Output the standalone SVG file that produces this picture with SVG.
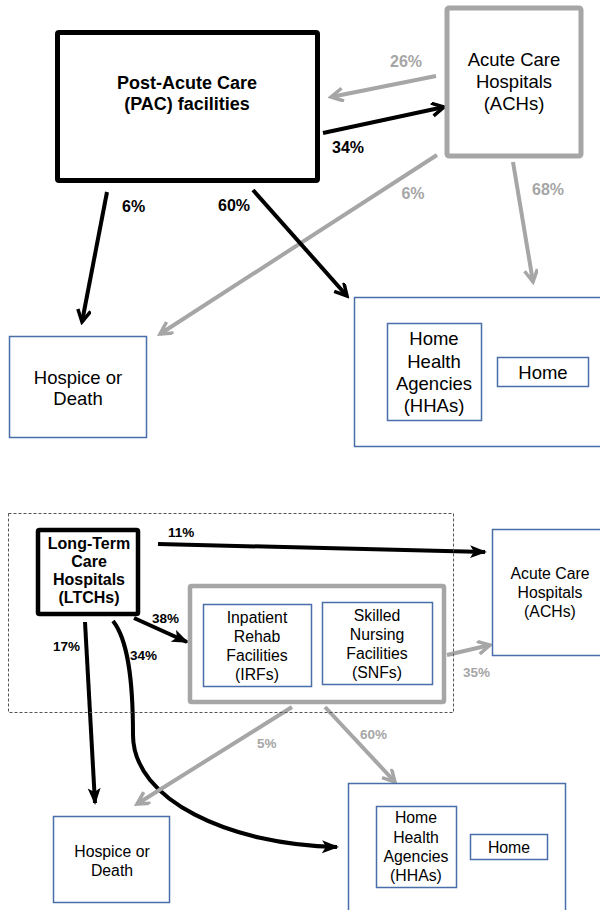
<svg xmlns="http://www.w3.org/2000/svg" width="600" height="910" viewBox="0 0 600 910">
<defs>
<style>
.t{font-family:"Liberation Sans",Arial,sans-serif;fill:#000;text-anchor:middle}
.b{font-weight:bold}
.n1{font-size:18.5px}
.n2{font-size:15.8px}
.p{font-family:"Liberation Sans",Arial,sans-serif;font-weight:bold;font-size:16px}
.ps{font-family:"Liberation Sans",Arial,sans-serif;font-weight:bold;font-size:13.5px}
.g{fill:#a6a6a6}
.k{fill:#000}
.blue{fill:#fff;stroke:#4a6ea8;stroke-width:1.5}
.lk{fill:none;stroke:#000;stroke-width:4}
.lg{fill:none;stroke:#a6a6a6;stroke-width:4}
</style>
<marker id="chK" viewBox="0 0 16 16" refX="13" refY="7" markerWidth="16" markerHeight="16" markerUnits="userSpaceOnUse" orient="auto">
<path d="M1,0.5 L13,7 L1,13.5" fill="none" stroke="#000" stroke-width="3.5"/>
</marker>
<marker id="chG" viewBox="0 0 16 16" refX="13" refY="7" markerWidth="16" markerHeight="16" markerUnits="userSpaceOnUse" orient="auto">
<path d="M1,0.5 L13,7 L1,13.5" fill="none" stroke="#a6a6a6" stroke-width="3.5"/>
</marker>
<marker id="fK" viewBox="0 0 18 14" refX="15" refY="7" markerWidth="18" markerHeight="14" markerUnits="userSpaceOnUse" orient="auto">
<path d="M0,0.5 L17,7 L0,13.5 L4,7 z" fill="#000"/>
</marker>
</defs>

<g id="connectors">
<line class="lg" x1="436" y1="76" x2="331" y2="97" marker-end="url(#chG)"/>
<line class="lk" x1="323" y1="133" x2="444" y2="107" marker-end="url(#chK)"/>
<line class="lg" x1="437" y1="155" x2="160" y2="334" marker-end="url(#chG)"/>
<line class="lg" x1="513" y1="162" x2="533" y2="282" marker-end="url(#chG)"/>
<line class="lk" x1="107" y1="192" x2="82" y2="322" marker-end="url(#chK)"/>
<line class="lk" x1="253" y1="190" x2="347" y2="296" marker-end="url(#chK)"/>
<line class="lk" x1="158" y1="544" x2="485" y2="552" marker-end="url(#fK)"/>
<line class="lk" x1="134" y1="618" x2="187" y2="642" marker-end="url(#fK)"/>
<line class="lk" x1="85" y1="622" x2="95" y2="803" marker-end="url(#fK)"/>
<path class="lk" d="M113,621 C128,640 133,680 133,735 C133,800 230,845 337,847" marker-end="url(#fK)"/>
<line class="lg" x1="447" y1="655" x2="490" y2="645" marker-end="url(#chG)"/>
<line class="lg" x1="292" y1="707" x2="137" y2="804" marker-end="url(#chG)"/>
<line class="lg" x1="325" y1="707" x2="395" y2="782" marker-end="url(#chG)"/>
</g>

<g id="labels">
<text class="p g" x="406" y="67" text-anchor="middle">26%</text>
<text class="p k" x="332" y="153">34%</text>
<text class="p g" x="413" y="199" text-anchor="middle">6%</text>
<text class="p g" x="532" y="195">68%</text>
<text class="p k" x="122" y="212">6%</text>
<text class="p k" x="218" y="211">60%</text>
<text class="ps k" x="168" y="537">11%</text>
<text class="ps k" x="152" y="623">38%</text>
<text class="ps k" x="53" y="651">17%</text>
<text class="ps k" x="130" y="660">34%</text>
<text class="ps g" x="463" y="677">35%</text>
<text class="ps g" x="257" y="748">5%</text>
<text class="ps g" x="360" y="739">60%</text>
</g>

<g id="pac-top">
<rect x="57.5" y="32.5" width="260" height="148" fill="#fff" stroke="#000" stroke-width="5" rx="1.5"/>
<text class="t b" font-size="18" x="187" y="89">Post-Acute Care</text>
<text class="t b" font-size="18" x="187" y="110">(PAC) facilities</text>
</g>

<g id="ach-top">
<rect x="447" y="8" width="134" height="148" fill="#fff" stroke="#a6a6a6" stroke-width="5" rx="2"/>
<text class="t n1" x="514" y="66">Acute Care</text>
<text class="t n1" x="514" y="88">Hospitals</text>
<text class="t n1" x="514" y="110">(ACHs)</text>
</g>

<g id="hospice-top">
<rect class="blue" x="9.5" y="336.5" width="137" height="101"/>
<text class="t n1" x="78" y="384">Hospice or</text>
<text class="t n1" x="78" y="405">Death</text>
</g>

<g id="home-group-top">
<rect class="blue" x="354.5" y="297.5" width="250" height="149"/>
<g id="hha-top">
<rect class="blue" x="387.5" y="323.5" width="94" height="97"/>
<text class="t n1" x="434" y="345">Home</text>
<text class="t n1" x="434" y="368">Health</text>
<text class="t n1" x="434" y="390">Agencies</text>
<text class="t n1" x="434" y="412">(HHAs)</text>
</g>
<g id="home-top">
<rect class="blue" x="497.5" y="357.5" width="91" height="29"/>
<text class="t n1" x="543" y="379">Home</text>
</g>
</g>

<g id="ltch-scope">
<rect x="8.5" y="513.5" width="445" height="199" fill="none" stroke="#555" stroke-width="1" stroke-dasharray="3,2"/>
</g>

<g id="ltch">
<rect x="38" y="530" width="100" height="84" fill="#fff" stroke="#000" stroke-width="4.5" rx="1.5"/>
<text class="t b" font-size="16" x="89" y="549">Long-Term</text>
<text class="t b" font-size="16" x="89" y="567">Care</text>
<text class="t b" font-size="16" x="89" y="585">Hospitals</text>
<text class="t b" font-size="16" x="89" y="603">(LTCHs)</text>
</g>

<g id="pac-bottom">
<rect x="190" y="586" width="254" height="116" fill="#fff" stroke="#a6a6a6" stroke-width="4.5" rx="1.5"/>
<g id="irf">
<rect class="blue" x="203.5" y="604.5" width="108" height="82"/>
<text class="t n2" x="257" y="623">Inpatient</text>
<text class="t n2" x="257" y="642">Rehab</text>
<text class="t n2" x="257" y="661">Facilities</text>
<text class="t n2" x="257" y="680">(IRFs)</text>
</g>
<g id="snf">
<rect class="blue" x="322.5" y="602.5" width="110" height="82"/>
<text class="t n2" x="377" y="621">Skilled</text>
<text class="t n2" x="377" y="640">Nursing</text>
<text class="t n2" x="377" y="659">Facilities</text>
<text class="t n2" x="377" y="678">(SNFs)</text>
</g>
</g>

<g id="ach-bottom">
<rect class="blue" x="492.5" y="529.5" width="115" height="126"/>
<text class="t n2" x="550" y="579">Acute Care</text>
<text class="t n2" x="550" y="598">Hospitals</text>
<text class="t n2" x="550" y="617">(ACHs)</text>
</g>

<g id="hospice-bottom">
<rect class="blue" x="53.5" y="816.5" width="116" height="86"/>
<text class="t n2" x="112" y="857">Hospice or</text>
<text class="t n2" x="112" y="876">Death</text>
</g>

<g id="home-group-bottom">
<rect class="blue" x="348.5" y="783.5" width="217" height="140"/>
<g id="hha-bottom">
<rect class="blue" x="376.5" y="806.5" width="80" height="81"/>
<text class="t n2" x="416" y="823">Home</text>
<text class="t n2" x="416" y="843">Health</text>
<text class="t n2" x="416" y="862">Agencies</text>
<text class="t n2" x="416" y="881">(HHAs)</text>
</g>
<g id="home-bottom">
<rect class="blue" x="470.5" y="834.5" width="77" height="25"/>
<text class="t n2" x="509" y="853">Home</text>
</g>
</g>
</svg>
